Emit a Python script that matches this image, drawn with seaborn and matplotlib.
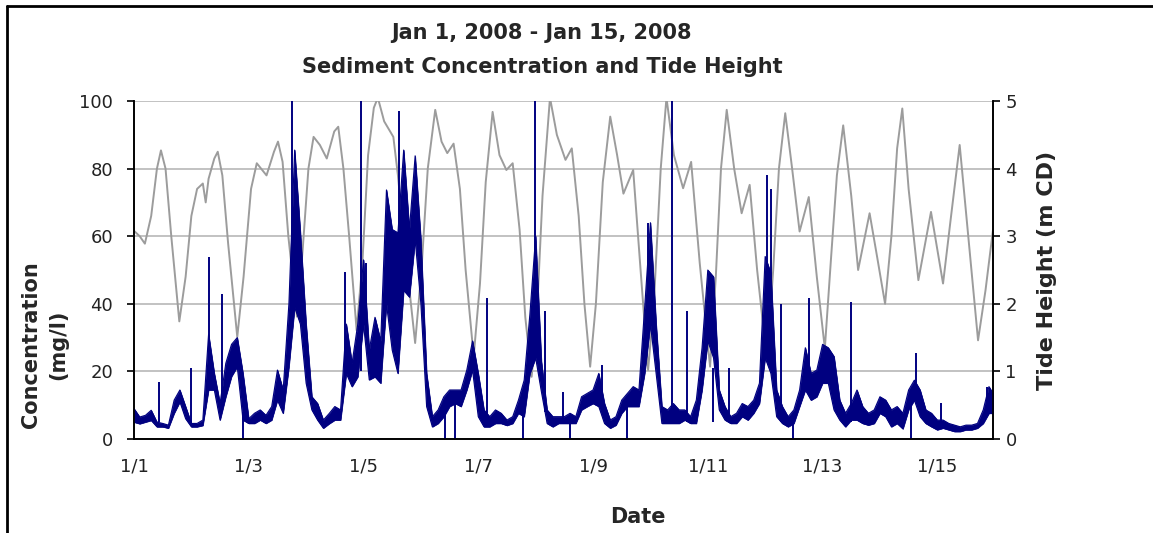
import numpy as np
import pandas as pd
import matplotlib
matplotlib.use("Agg")
import matplotlib.pyplot as plt
import seaborn as sns
from matplotlib.lines import Line2D

# tide height (m CD), days since Jan 1 2008 00:00
tide_days = [0.00, 0.10, 0.19, 0.30, 0.40, 0.47, 0.55, 0.65, 0.79, 0.90,
             1.00, 1.10, 1.20, 1.25, 1.30, 1.40, 1.46, 1.54, 1.64, 1.80,
             1.91, 2.04, 2.14, 2.31, 2.44, 2.51, 2.59, 2.69, 2.84, 2.94,
             3.04, 3.13, 3.24, 3.36, 3.49, 3.56, 3.65, 3.75, 3.88, 3.98,
             4.08, 4.18, 4.25, 4.36, 4.52, 4.60, 4.70, 4.90, 5.01, 5.12,
             5.25, 5.36, 5.46, 5.57, 5.68, 5.78, 5.92, 6.03, 6.13, 6.25,
             6.37, 6.49, 6.60, 6.72, 6.82, 6.93, 7.02, 7.12, 7.25, 7.37,
             7.52, 7.63, 7.75, 7.85, 7.95, 8.05, 8.17, 8.30, 8.42, 8.53,
             8.70, 8.82, 8.96, 9.06, 9.18, 9.28, 9.41, 9.57, 9.71, 9.86,
             10.04, 10.14, 10.23, 10.33, 10.46, 10.59, 10.73, 10.86, 11.03, 11.14,
             11.24, 11.35, 11.47, 11.60, 11.76, 11.90, 12.04, 12.15, 12.25, 12.36,
             12.50, 12.62, 12.82, 12.95, 13.09, 13.20, 13.30, 13.39, 13.50, 13.67,
             13.89, 14.10, 14.24, 14.39, 14.54, 14.71, 14.84, 14.97]
tide_m = [3.08, 3.00, 2.89, 3.30, 4.00, 4.27, 4.00, 3.00, 1.74, 2.40,
          3.30, 3.70, 3.78, 3.50, 3.85, 4.15, 4.25, 3.90, 2.90, 1.51,
          2.40, 3.70, 4.08, 3.90, 4.25, 4.40, 4.10, 3.00, 1.81, 2.80,
          4.00, 4.47, 4.35, 4.15, 4.55, 4.62, 4.00, 3.00, 1.61, 2.60,
          4.20, 4.90, 5.05, 4.70, 4.47, 3.90, 3.00, 1.42, 2.50, 4.00,
          4.87, 4.40, 4.23, 4.37, 3.70, 2.50, 1.22, 2.30, 3.80, 4.84,
          4.20, 3.98, 4.08, 3.10, 1.80, 0.92, 1.80, 3.60, 5.05, 4.50,
          4.13, 4.30, 3.30, 2.00, 1.07, 2.00, 3.80, 4.77, 4.20, 3.63,
          3.98, 2.60, 1.02, 2.00, 4.00, 5.05, 4.20, 3.71, 4.10, 2.60,
          1.07, 2.40, 4.00, 4.87, 4.00, 3.34, 3.76, 2.50, 1.17, 2.50,
          4.00, 4.82, 4.00, 3.07, 3.58, 2.40, 1.34, 2.70, 3.90, 4.64,
          3.60, 2.50, 3.34, 2.70, 2.00, 3.00, 4.30, 4.89, 3.70, 2.35,
          3.36, 2.30, 3.30, 4.35, 3.00, 1.46, 2.20, 3.09]

# sediment concentration (mg/l), low / high of the trace every 0.1 day
conc_days = list(np.round(np.arange(0, 14.95, 0.1), 1)) + [14.97]
conc_lo = [5, 4.5, 5, 5.5, 3.6, 3.6, 3.2, 7.6, 11, 6,
           3.6, 3.6, 4, 14.5, 14.5, 5.6, 12.5, 18.5, 21.4, 5.6,
           4.6, 4.6, 5.6, 4.6, 5.6, 11.5, 7.6, 21.4, 39, 34,
           16.5, 8.6, 5.6, 3.2, 4.5, 5.6, 5.6, 19.4, 15.5, 18.4,
           34, 17.5, 18.4, 16.5, 40, 26.3, 19.4, 44, 42, 59,
           40, 9.6, 3.6, 4.6, 6.6, 9.6, 10.5, 9.6, 14.5, 20.4,
           6.6, 3.6, 3.6, 4.6, 4.6, 4, 4.6, 7.6, 6.6, 19.4,
           24, 14, 4.6, 3.6, 4.6, 4.6, 4.6, 4.6, 8.6, 9.6,
           10.5, 9.6, 4.6, 3.2, 4.1, 7.6, 9.6, 9.6, 9.6, 19.4,
           34, 19.4, 4.6, 4.6, 4.6, 4.6, 5.6, 4.6, 4.6, 14.5,
           29, 24, 8.6, 5.6, 4.6, 4.6, 6.6, 5.6, 7.6, 10.5,
           24, 19.4, 6.6, 4.6, 3.6, 4.6, 9.6, 14.5, 11.5, 12.5,
           16.5, 16.5, 8.6, 5.6, 3.6, 5.6, 5.6, 4.6, 4.1, 4.6,
           7.6, 6.6, 3.6, 4.6, 3, 8.6, 11.5, 6.6, 4.6, 3.6,
           2.7, 3.2, 2.7, 2.2, 2.2, 2.7, 2.7, 3.2, 4.6, 7.6, 7.6]
conc_hi = [9, 6.5, 7, 8.5, 5, 4.6, 4.1, 11.5, 14.5, 9.6,
           4.6, 4.6, 5.6, 31, 19.4, 10.5, 22.4, 28, 30, 19.4,
           6, 7.6, 8.6, 7, 9.6, 20.4, 14.5, 40, 85.5, 61,
           34, 12.5, 10.5, 5.6, 7.5, 9.6, 8.6, 34, 22.4, 34,
           53, 26.3, 36, 29, 73.7, 62, 61, 85.5, 62, 83.8,
           59, 19.4, 6.6, 8.6, 12.5, 14.5, 14.5, 14.5, 20.4, 29,
           19.4, 8.6, 6.6, 8.6, 7.6, 5.6, 6.6, 11.5, 17.4, 37,
           60, 23, 8.6, 6.6, 6.6, 6.6, 7.6, 6.6, 12.5, 13.5,
           14.5, 19.4, 10.5, 5.6, 6.6, 11.5, 13.5, 15.5, 14.5, 39,
           64, 34, 9.6, 8.6, 10.5, 8.6, 8.6, 6.6, 11.5, 27,
           50, 48, 14.5, 9.6, 6.6, 7.6, 10.5, 9.6, 11.5, 16.5,
           54, 49, 14.5, 9.6, 6.6, 8.6, 14.5, 27, 19.4, 20.4,
           28, 27, 24.4, 11.5, 7.6, 10.5, 14.5, 9.6, 7.6, 8.6,
           12.5, 11.5, 8.6, 9.6, 7.6, 14.5, 17.4, 14.5, 8.6, 7.6,
           5.6, 5.6, 4.6, 4.1, 3.6, 4.1, 4.1, 4.6, 8.6, 15.5, 13.5]

# short spikes in the concentration record
spike_days = [0.44, 0.99, 1.30, 1.54, 1.90, 2.76, 3.68, 3.95, 4.05, 4.62,
              5.42, 5.59, 6.16, 6.78, 6.99, 7.16, 7.47, 7.60, 8.15, 8.60,
              8.95, 9.38, 9.64, 10.09, 10.37, 11.03, 11.11, 11.27, 11.49, 11.77,
              12.50, 13.54, 13.62, 14.07, 14.87]
spike_lo = [5, 4, 25, 8, 0, 40, 20, 20, 30, 40,
            0, 0, 5, 0, 25, 8, 5, 0, 8, 0,
            30, 5, 5, 5, 5, 30, 30, 5, 0, 15,
            5, 0, 12, 3, 8]
spike_hi = [17, 21, 54, 43, 8, 100, 49.5, 100, 52, 97,
            8, 12, 41.6, 10, 100, 38, 14, 6, 22, 10,
            64, 100, 38, 21, 21, 78, 74, 40, 5, 41.6,
            40.6, 10, 25.3, 10.5, 15.5]

tick_days = [0, 2, 4, 6, 8, 10, 12, 14]
tick_labels = ["1/1", "1/3", "1/5", "1/7", "1/9", "1/11", "1/13", "1/15"]

navy = "#000080"
grey = "#9c9c9c"

sns.set_style("white")
plt.rcParams["font.family"] = ["DejaVu Sans"]

fig = plt.figure(figsize=(11.53, 5.33), dpi=100)
ax = fig.add_axes([0.1162, 0.1764, 0.745, 0.634])
ax2 = ax.twinx()
ax.set_zorder(ax2.get_zorder() + 1)
ax.patch.set_visible(False)

tide = pd.DataFrame({"day": tide_days, "height": tide_m})
sns.lineplot(data=tide, x="day", y="height", ax=ax2, color=grey, lw=1.4,
             estimator=None, sort=False)

conc = pd.DataFrame({"day": conc_days, "lo": conc_lo, "hi": conc_hi})
ax.fill_between(conc["day"], conc["lo"], conc["hi"], color=navy, lw=0.5)
sns.lineplot(data=conc, x="day", y="lo", ax=ax, color=navy, lw=0.8, estimator=None)
sns.lineplot(data=conc, x="day", y="hi", ax=ax, color=navy, lw=0.8, estimator=None)
ax.vlines(spike_days, spike_lo, spike_hi, color=navy, lw=1.4)

ax.set_xlim(0, 14.97)
ax.set_ylim(0, 100)
ax2.set_ylim(0, 5)
ax.set_yticks(range(0, 101, 20))
ax2.set_yticks(range(0, 6))
ax.set_xticks(tick_days)
ax.set_xticklabels(tick_labels)

ax2.yaxis.grid(True, color="#b8b8b8", lw=1.2)
ax2.set_axisbelow(True)
for a in (ax, ax2):
    a.spines["top"].set_visible(False)
    for s in ("left", "bottom", "right"):
        a.spines[s].set_color("black")
        a.spines[s].set_linewidth(1.2)
    a.tick_params(direction="out", length=5, width=1.2, labelsize=13,
                  colors="black", labelcolor="#222222")
ax.tick_params(axis="x", pad=8)
ax.tick_params(axis="y", pad=10)
ax2.tick_params(axis="y", pad=4)

ax.set_xlabel("")
ax2.set_xlabel("")
ax.set_ylabel("Concentration\n(mg/l)", fontsize=15, fontweight="bold", linespacing=1.4)
ax.yaxis.set_label_coords(-0.077, 0.278)
ax2.set_ylabel("Tide Height (m CD)", fontsize=16, fontweight="bold", rotation=90)
ax2.yaxis.set_label_coords(1.051, 0.5)
fig.text(0.553, 0.030, "Date", ha="center", va="center", fontsize=15, fontweight="bold")

fig.text(0.470, 0.938, "Jan 1, 2008 - Jan 15, 2008", ha="center", va="center",
         fontsize=15, fontweight="bold")
fig.text(0.470, 0.874, "Sediment Concentration and Tide Height", ha="center", va="center",
         fontsize=15, fontweight="bold")

# chart frame
fig.add_artist(Line2D([7 / 1153, 7 / 1153], [0, 1 - 6 / 533], transform=fig.transFigure,
                      color="black", lw=2))
fig.add_artist(Line2D([7 / 1153, 1], [1 - 6 / 533, 1 - 6 / 533], transform=fig.transFigure,
                      color="black", lw=2))

fig.savefig("out.png", dpi=100)
